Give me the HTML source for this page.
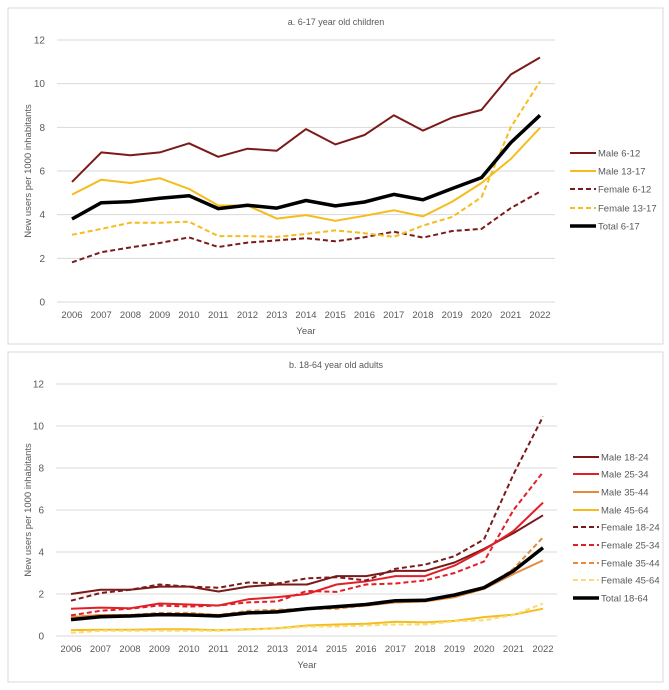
<!DOCTYPE html>
<html><head><meta charset="utf-8"><style>
body{margin:0;background:#fff;width:669px;height:690px;overflow:hidden;font-family:"Liberation Sans",sans-serif}
svg{position:absolute;left:0;top:0}
text{font-family:"Liberation Sans",sans-serif;fill:#595959}
</style></head><body>
<svg id="s" width="669" height="690"></svg>
<script>
const years=[2006,2007,2008,2009,2010,2011,2012,2013,2014,2015,2016,2017,2018,2019,2020,2021,2022];
const yTicks=[0,2,4,6,8,10,12];
const childLabels=["Male 6-12","Male 13-17","Female 6-12","Female 13-17","Total 6-17"];
const male612=[5.5,6.85,6.72,6.85,7.27,6.65,7.02,6.93,7.92,7.22,7.65,8.55,7.85,8.45,8.8,10.42,11.2];
const male1317=[4.92,5.6,5.45,5.67,5.18,4.42,4.42,3.82,3.98,3.72,3.95,4.2,3.92,4.6,5.45,6.55,7.98];
const female612=[1.82,2.28,2.5,2.7,2.96,2.52,2.72,2.82,2.92,2.78,2.97,3.22,2.95,3.25,3.35,4.3,5.05];
const female1317=[3.08,3.35,3.63,3.63,3.68,3.02,3.02,2.98,3.12,3.28,3.15,2.98,3.5,3.9,4.8,8.0,10.1];
const total617=[3.8,4.55,4.6,4.75,4.87,4.28,4.43,4.3,4.65,4.4,4.58,4.93,4.68,5.2,5.7,7.3,8.55];
const adultLabels=["Male 18-24","Male 25-34","Male 35-44","Male 45-64","Female 18-24","Female 25-34","Female 35-44","Female 45-64","Total 18-64"];
const male1824=[2.0,2.2,2.2,2.35,2.35,2.12,2.35,2.45,2.45,2.85,2.85,3.1,3.1,3.5,4.15,4.9,5.75];
const male2534=[1.3,1.35,1.32,1.55,1.5,1.45,1.75,1.85,2.0,2.45,2.6,2.85,2.85,3.35,4.1,5.0,6.35];
const male3544=[0.9,1.0,1.0,1.05,1.05,1.0,1.1,1.2,1.3,1.35,1.45,1.6,1.65,1.85,2.25,2.95,3.6];
const male4564=[0.28,0.3,0.3,0.32,0.32,0.27,0.32,0.37,0.5,0.55,0.58,0.68,0.65,0.72,0.9,1.02,1.3];
const female1824=[1.68,2.05,2.2,2.45,2.35,2.3,2.55,2.5,2.75,2.8,2.65,3.2,3.4,3.8,4.6,7.7,10.45];
const female2534=[0.98,1.2,1.3,1.45,1.4,1.45,1.6,1.65,2.15,2.1,2.45,2.5,2.65,3.0,3.55,6.0,7.8];
const female3544=[0.9,1.0,1.0,1.1,1.1,1.0,1.2,1.25,1.3,1.3,1.45,1.6,1.65,1.85,2.25,3.2,4.7];
const female4564=[0.15,0.25,0.25,0.25,0.25,0.25,0.3,0.35,0.45,0.45,0.5,0.55,0.55,0.7,0.75,1.0,1.55];
const total1864=[0.78,0.92,0.95,1.02,1.0,0.95,1.1,1.15,1.3,1.4,1.5,1.68,1.7,1.95,2.3,3.1,4.2];

const NS="http://www.w3.org/2000/svg",svg=document.getElementById('s');
function el(t,a,p){const e=document.createElementNS(NS,t);for(const k in a)e.setAttribute(k,a[k]);(p||svg).appendChild(e);return e;}
function panel(cfg){
  const g=el('g',{});
  
  
  const r=el('rect',{x:cfg.box[0],y:cfg.box[1],width:cfg.box[2],height:cfg.box[3],fill:'#fff',stroke:'#d9d9d9'},g);
  
  
  const X=i=>cfg.x0+(cfg.x1-cfg.x0)*i/(years.length-1);
  const Y=v=>cfg.y0-(cfg.y0-cfg.y12)*v/12;
  const t=el('text',{x:336,y:cfg.titleY,'text-anchor':'middle','font-size':9},g);t.textContent=cfg.title;
  
  
  yTicks.forEach(v=>{
    const l=el('line',{x1:cfg.gx0,x2:cfg.gx1,y1:Y(v),y2:Y(v),stroke:'#d9d9d9','stroke-width':1},g);
    
    
    const tx=el('text',{x:cfg.gx0-12,y:Y(v)+3.5,'text-anchor':'end','font-size':10},g);tx.textContent=v;
    
    
  });
  years.forEach((y,i)=>{
    const tx=el('text',{x:X(i),y:cfg.yearY,'text-anchor':'middle','font-size':9.5},g);tx.textContent=y;
    
    
  });
  const xt=el('text',{x:(cfg.x0+cfg.x1)/2,y:cfg.yearY+16,'text-anchor':'middle','font-size':9.5},g);xt.textContent='Year';
  
  
  const cy=(cfg.y0+cfg.y12)/2;
  const yt=el('text',{x:31,y:cy,'text-anchor':'middle','font-size':9.5,transform:`rotate(-90 31 ${cy})`},g);yt.textContent='New users per 1000 inhabitants';
  
  
  cfg.series.forEach((s,k)=>{
    const pts=s.data.map((v,i)=>X(i).toFixed(1)+','+Y(v).toFixed(1)).join(' ');
    const a={points:pts,fill:'none',stroke:s.c,'stroke-width':s.w,'stroke-linejoin':'round'};
    if(s.d)a['stroke-dasharray']='5,3';
    const pl=el('polyline',a,g);
    
    
    const ly=cfg.legY[k];
    const la={x1:cfg.legX,x2:cfg.legX+26,y1:ly,y2:ly,stroke:s.c,'stroke-width':s.w};
    if(s.d)la['stroke-dasharray']='5,3';
    const ll=el('line',la,g);
    
    
    const lt=el('text',{x:cfg.legX+28,y:ly+3.5,'font-size':9.5},g);lt.textContent=cfg.labels[k];
    
    
  });
}
const DR='#7b1a1a',RD='#e21f26',OR='#e48a3c',YE='#f5bc1c',LY='#f8dc74';
panel({name:'children-chart',box:[8,8,655,336],title:'a. 6-17 year old children',titleY:25,x0:72,x1:540,gx0:57,gx1:555,y0:302,y12:40,yearY:318,legX:570,
  legY:[153,171,189,208,226],labels:childLabels,
  series:[{data:male612,c:DR,w:2},{data:male1317,c:YE,w:2},{data:female612,c:DR,w:2,d:1},{data:female1317,c:YE,w:2,d:1},{data:total617,c:'#000',w:3.5}]});
panel({name:'adults-chart',box:[8,352,655,330],title:'b. 18-64 year old adults',titleY:368,x0:71,x1:543,gx0:56,gx1:557,y0:636,y12:384,yearY:652,legX:573,
  legY:[457,474,492,510,527,545,563,580,598],labels:adultLabels,
  series:[{data:male1824,c:DR,w:2},{data:male2534,c:RD,w:2},{data:male3544,c:OR,w:2},{data:male4564,c:YE,w:2},
    {data:female1824,c:DR,w:2,d:1},{data:female2534,c:RD,w:2,d:1},{data:female3544,c:OR,w:2,d:1},{data:female4564,c:LY,w:2,d:1},{data:total1864,c:'#000',w:3.5}]});
</script>
</body></html>
